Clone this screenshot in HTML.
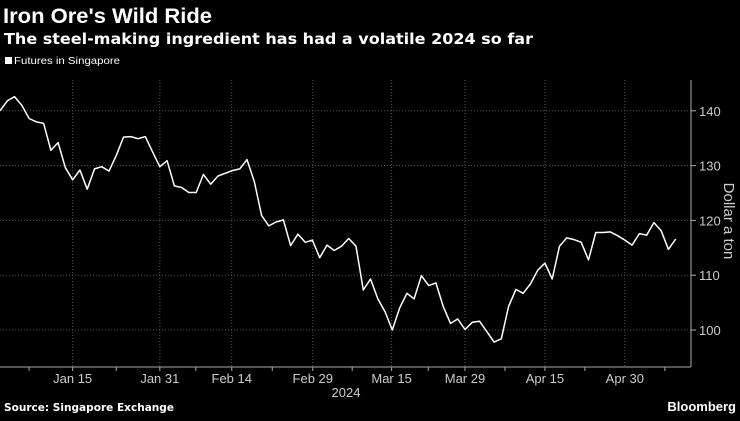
<!DOCTYPE html>
<html><head><meta charset="utf-8"><style>
body{margin:0;background:#000;width:740px;height:416px;overflow:hidden;font-family:"Liberation Sans",sans-serif;color:#fff}
</style></head><body>
<svg id="c" width="740" height="416" xmlns="http://www.w3.org/2000/svg">
<text x="3" y="23" font-size="21" font-weight="bold" fill="#fff" textLength="209" lengthAdjust="spacingAndGlyphs">Iron Ore's Wild Ride</text>
<text x="4" y="44" font-size="15" font-weight="bold" fill="#fff" font-family="DejaVu Sans, sans-serif" textLength="529" lengthAdjust="spacingAndGlyphs">The steel-making ingredient has had a volatile 2024 so far</text>
<rect x="5" y="57" width="7" height="7" fill="#fff"/>
<text x="14" y="64" font-size="10.5" fill="#fff" textLength="106" lengthAdjust="spacingAndGlyphs">Futures in Singapore</text>
<text x="4" y="411" font-size="11" font-weight="bold" fill="#fff" font-family="DejaVu Sans, sans-serif" textLength="170" lengthAdjust="spacingAndGlyphs">Source: Singapore Exchange</text>
<text x="736" y="411" font-size="13" font-weight="bold" fill="#fff" text-anchor="end">Bloomberg</text>
<g id="plot"></g>
</svg>
<script>
const values=[140.0,141.8,142.6,141.0,138.6,138.0,137.7,132.8,134.2,129.6,127.4,129.2,125.7,129.4,129.8,129.0,131.8,135.2,135.3,134.9,135.3,132.5,129.8,130.9,126.3,126.0,125.1,125.1,128.4,126.6,128.1,128.6,129.1,129.4,131.1,127.1,120.9,119.0,119.7,120.1,115.4,117.5,116.0,116.4,113.2,115.5,114.5,115.3,116.7,115.3,107.3,109.3,105.7,103.3,100.0,104.0,106.7,105.7,109.9,108.1,108.6,104.3,101.2,102.0,100.1,101.4,101.6,99.7,97.8,98.4,104.3,107.4,106.7,108.4,110.9,112.2,109.3,115.3,116.8,116.5,116.0,112.8,117.8,117.8,117.9,117.2,116.4,115.5,117.6,117.3,119.6,118.1,114.7,116.6];
const xTickLabels=["Jan 15","Jan 31","Feb 14","Feb 29","Mar 15","Mar 29","Apr 15","Apr 30"];
const xTickIdx=[10.0,22.0,31.9,43.05,53.9,64.0,75.0,86.0];
const yTicks=[100,110,120,130,140];
const NS="http://www.w3.org/2000/svg";
const g=document.getElementById('plot');
const X0=0,X1=675.7,Y0=330,PER=5.48,AX=691,AXY=367;
const x=i=>X0+i*(X1-X0)/(values.length-1);
const y=v=>Y0-(v-100)*PER;
function el(t,a){const e=document.createElementNS(NS,t);for(const k in a)e.setAttribute(k,a[k]);g.appendChild(e);return e;}
yTicks.forEach(v=>{
 const l=el('line',{x1:0,x2:AX,y1:y(v),y2:y(v),stroke:'#555','stroke-dasharray':'1,2','stroke-width':1});
 
 
 const t=el('line',{x1:AX,x2:AX+5,y1:y(v),y2:y(v),stroke:'#aaa'});
 
 
 const tx=el('text',{x:AX+8,y:y(v)+5,'font-size':13,fill:'#ccc'});tx.textContent=v;
 
 
});
xTickIdx.forEach((ix,k)=>{
 const px=x(ix);
 const l=el('line',{x1:px,x2:px,y1:80,y2:AXY,stroke:'#555','stroke-dasharray':'1,2','stroke-width':1});
 
 
 const tx=el('text',{x:px,y:383,'font-size':13,fill:'#ccc','text-anchor':'middle'});tx.textContent=xTickLabels[k];
 
 
 const prev=k===0?ix-(xTickIdx[1]-xTickIdx[0]):xTickIdx[k-1];
 [prev+(ix-prev)/2, ix+ (k===xTickIdx.length-1? (ix-xTickIdx[k-1])/2:0)].forEach(m=>{
  const mx=x(m);if(mx<0||mx>AX)return;
  const t=el('line',{x1:mx,x2:mx,y1:AXY,y2:AXY+4,stroke:'#aaa'});
  
  
 });
});
const ax=el('line',{x1:0,x2:AX,y1:AXY,y2:AXY,stroke:'#aaa'});


const ay=el('line',{x1:AX,x2:AX,y1:80,y2:AXY,stroke:'#aaa'});


const yr=el('text',{x:346,y:397,'font-size':13,fill:'#ccc','text-anchor':'middle'});yr.textContent='2024';


const yt=el('text',{x:0,y:0,'font-size':15,fill:'#ccc','text-anchor':'middle',transform:'translate(724,221) rotate(90)'});yt.textContent='Dollar a ton';


const line=el('polyline',{points:values.map((v,i)=>x(i).toFixed(1)+','+y(v).toFixed(1)).join(' '),fill:'none',stroke:'#fff','stroke-width':1.5,'stroke-linejoin':'round'});


</script>
</body></html>
